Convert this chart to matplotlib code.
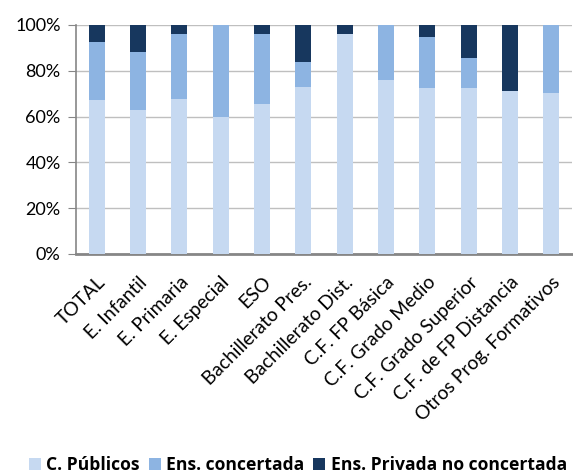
import numpy as np
import matplotlib.pyplot as plt
from matplotlib.ticker import PercentFormatter

plt.rcParams['font.family'] = ['Lato', 'DejaVu Sans']

categories = ["TOTAL", "E. Infantil", "E. Primaria", "E. Especial", "ESO",
              "Bachillerato Pres.", "Bachillerato Dist.", "C.F. FP Básica",
              "C.F. Grado Medio", "C.F. Grado Superior", "C.F. de FP Distancia",
              "Otros Prog. Formativos"]
publicos = [67.2, 62.9, 67.8, 60.0, 65.5, 73.1, 96.1, 76.0, 72.6, 72.3, 71.3, 70.2]
concertada = [25.5, 25.4, 28.3, 39.8, 30.7, 10.9, 0.0, 23.8, 22.2, 13.1, 0.0, 29.8]
privada = [7.3, 11.7, 3.9, 0.2, 3.8, 16.0, 3.9, 0.2, 5.2, 14.6, 28.7, 0.0]

fig = plt.figure(figsize=(5.73, 4.73), dpi=100)
ax = fig.add_axes([76 / 573, 219 / 473, 496 / 573, 229 / 473])

x = np.arange(len(categories))
w = 0.39
pub = np.array(publicos)
con = np.array(concertada)
pri = np.array(privada)
ax.bar(x, pub, w, color='#C6D9F1', label='C. Públicos', zorder=3)
ax.bar(x, con, w, bottom=pub, color='#8DB4E2', label='Ens. concertada', zorder=3)
ax.bar(x, pri, w, bottom=pub + con, color='#17375E', label='Ens. Privada no concertada', zorder=3)

ax.set_xlim(-0.5, len(categories) - 0.5)
ax.set_ylim(0, 100)
ax.set_yticks(np.arange(0, 101, 20))
ax.yaxis.set_major_formatter(PercentFormatter(decimals=0))
ax.grid(axis='y', color='#BFBFBF', linewidth=1, zorder=0)
for s in ['top', 'right']:
    ax.spines[s].set_visible(False)
ax.spines['left'].set_color('#868686')
ax.spines['left'].set_linewidth(1.2)
ax.spines['bottom'].set_color('#868686')
ax.spines['bottom'].set_linewidth(2)
ax.tick_params(axis='y', length=6, color='#868686', labelsize=13, pad=5)
ax.tick_params(axis='x', length=0, labelsize=13.8, pad=14)
ax.set_xticks(x)
ax.set_xticklabels(categories, rotation=45, ha='right', rotation_mode='anchor')

fig.legend(loc='lower center', bbox_to_anchor=(0.52, -0.035), ncol=3, frameon=False,
           handlelength=0.7, handleheight=0.7, handletextpad=0.3, columnspacing=0.5,
           prop={'family': 'Open Sans', 'weight': 'bold', 'size': 12.6})

fig.savefig('out.png', dpi=100)
